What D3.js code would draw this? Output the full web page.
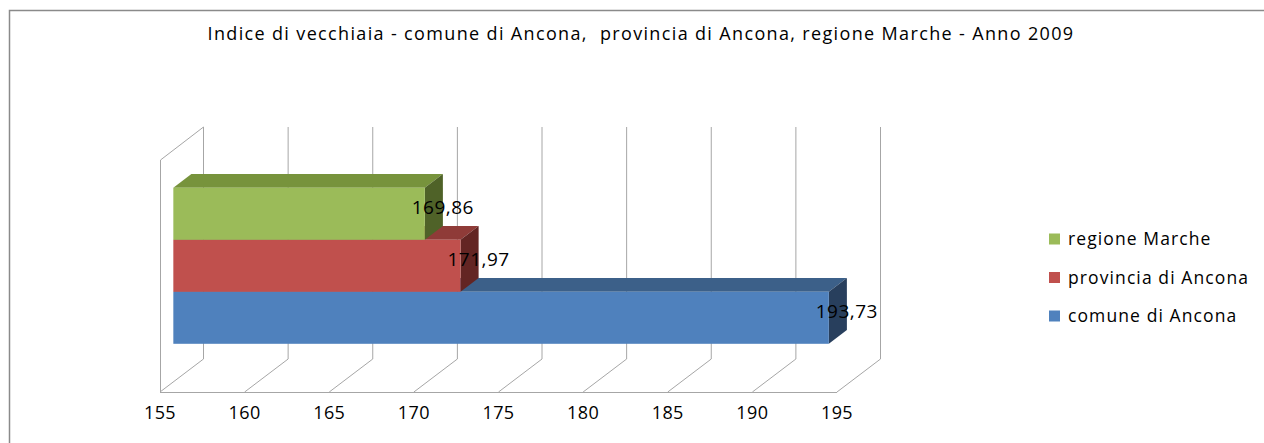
<!DOCTYPE html>
<html>
<head>
<meta charset="utf-8">
<script src="https://cdn.jsdelivr.net/npm/d3@7"></script>
<style>
  body { margin: 0; background: #fff; }
  text { font-family: "Open Sans", sans-serif; fill: #000; }
</style>
</head>
<body>
<script>
// data
var series = ["regione Marche", "provincia di Ancona", "comune di Ancona"];
var values = [169.86, 171.97, 193.73];
var labels = ["169,86", "171,97", "193,73"];
var ticks = [155, 160, 165, 170, 175, 180, 185, 190, 195];
var title = "Indice di vecchiaia - comune di Ancona,  provincia di Ancona, regione Marche - Anno 2009";

var colors = {
  front: ["#9bbb59", "#c0504d", "#4f81bd"],
  top:   ["#77933c", "#8f3b38", "#3c6089"],
  side:  ["#4f6228", "#632523", "#283f5d"]
};

var width = 1264, height = 443;

var svg = d3.select("body").append("svg")
  .attr("width", width)
  .attr("height", height);

// outer frame (right and bottom sides fall off the page)
svg.append("path")
  .attr("d", "M9.5," + height + "V10.5H" + width)
  .attr("fill", "none")
  .attr("stroke", "#8a8a8a")
  .attr("stroke-width", 1.5);

svg.append("text")
  .attr("x", 641)
  .attr("y", 39.5)
  .attr("text-anchor", "middle")
  .style("font-size", "18px")
  .style("letter-spacing", "1.35px")
  .style("white-space", "pre")
  .attr("xml:space", "preserve")
  .text(title);

// 3d geometry: front plane and depth vector
var x = d3.scaleLinear().domain([155, 195]).range([160, 837]);
var top0 = 160, bottom0 = 392;
var depth = [43, -33];
var t0 = 0.31, t1 = 0.73;

var y = d3.scaleBand().domain(series).range([top0, bottom0])
  .paddingInner(0).paddingOuter(0.73);

var grid = svg.append("g")
  .attr("fill", "none")
  .attr("stroke", "#a6a6a6")
  .attr("stroke-width", 1);

// left side wall
grid.append("path")
  .attr("d", "M" + (x(155) + 0.5) + "," + bottom0 + "V" + top0 +
    "L" + (x(155) + depth[0] + 0.5) + "," + (top0 + depth[1]));

// front floor edge
grid.append("path")
  .attr("d", "M" + x(155) + "," + (bottom0 + 0.5) + "H" + x(195));

// floor diagonals + back wall verticals
grid.selectAll("path.tick")
  .data(ticks)
  .enter().append("path")
  .attr("class", "tick")
  .attr("d", function(d) {
    var bx = x(d) + depth[0] + 0.5;
    return "M" + x(d) + "," + bottom0 + "L" + bx + "," + (bottom0 + depth[1]) +
      "V" + (top0 + depth[1]);
  });

svg.selectAll("text.tick")
  .data(ticks)
  .enter().append("text")
  .attr("class", "tick")
  .attr("x", function(d) { return x(d); })
  .attr("y", 418.5)
  .attr("text-anchor", "middle")
  .style("font-size", "18px")
  .style("letter-spacing", "0.4px")
  .text(function(d) { return d; });

// bars, drawn bottom first so the upper ones cover the tops below
var ox = depth[0] * t0, oy = depth[1] * t0;
var ddx = depth[0] * (t1 - t0), ddy = depth[1] * (t1 - t0);

var order = d3.range(series.length).reverse();
var bars = svg.selectAll("g.bar")
  .data(order)
  .enter().append("g")
  .attr("class", "bar");

function pts(p) { return p.map(function(q) { return q.join(","); }).join(" "); }

bars.each(function(i) {
  var g = d3.select(this);
  var xs = x(155) + ox, xe = x(values[i]) + ox;
  var yt = y(series[i]) + oy, yb = yt + y.bandwidth();
  g.append("polygon")
    .attr("points", pts([[xs, yt], [xs + ddx, yt + ddy], [xe + ddx, yt + ddy], [xe, yt]]))
    .attr("fill", colors.top[i]);
  g.append("polygon")
    .attr("points", pts([[xe, yt], [xe + ddx, yt + ddy], [xe + ddx, yb + ddy], [xe, yb]]))
    .attr("fill", colors.side[i]);
  g.append("rect")
    .attr("x", xs).attr("y", yt)
    .attr("width", xe - xs).attr("height", yb - yt)
    .attr("fill", colors.front[i]);
});

// value labels on top of everything
svg.selectAll("text.val")
  .data(order)
  .enter().append("text")
  .attr("class", "val")
  .attr("x", function(i) { return x(values[i]) + ox + 18; })
  .attr("y", function(i) { return y(series[i]) + oy + y.bandwidth() / 2 - 6; })
  .attr("dy", "0.35em")
  .attr("text-anchor", "middle")
  .style("font-size", "19px")
  .style("letter-spacing", "0.5px")
  .text(function(i) { return labels[i]; });

// legend
var legend = svg.selectAll("g.legend")
  .data(series)
  .enter().append("g")
  .attr("class", "legend")
  .attr("transform", function(d, i) { return "translate(1049," + (239 + i * 38.5) + ")"; });

legend.append("rect")
  .attr("y", -5.5)
  .attr("width", 11)
  .attr("height", 11)
  .attr("fill", function(d, i) { return colors.front[i]; });

legend.append("text")
  .attr("x", 19)
  .attr("dy", "0.35em")
  .style("font-size", "17.5px")
  .style("letter-spacing", "1.1px")
  .text(function(d) { return d; });
</script>
</body>
</html>
